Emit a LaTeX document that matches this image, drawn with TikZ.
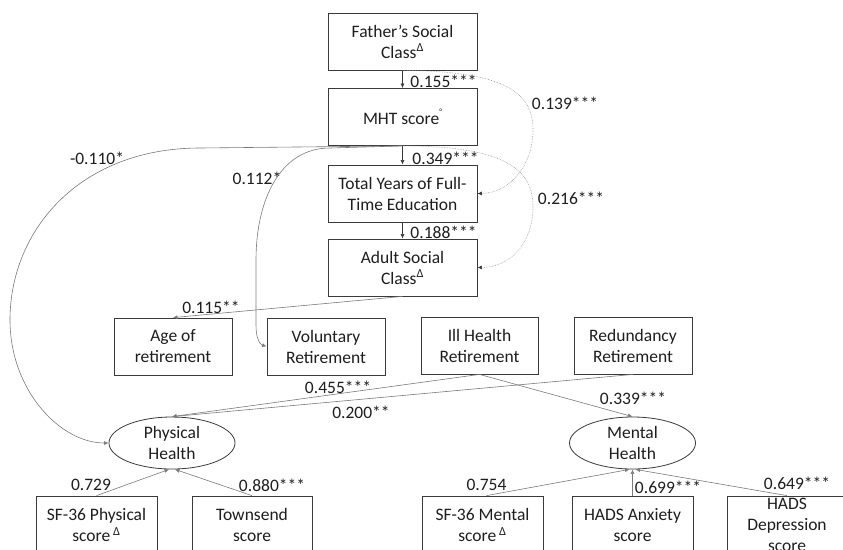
\documentclass[tikz,border=0pt]{standalone}
\usepackage{fontspec}
\setmainfont{Carlito}
\usetikzlibrary{arrows.meta,shapes.geometric}
\definecolor{boxc}{HTML}{3A3A3A}
\definecolor{linec}{HTML}{7A7A7A}
\definecolor{dotc}{HTML}{9A9A9A}
\definecolor{txtc}{HTML}{1E1E1E}
\tikzset{
  box/.style={draw=boxc, line width=0.8pt, align=center, inner sep=0pt,
    minimum height=57pt, text=txtc, font=\fontsize{17.5}{21}\selectfont},
  lat/.style={draw=boxc, line width=0.8pt, ellipse, align=center, inner sep=0pt,
    minimum width=126pt, minimum height=52pt, text=txtc, font=\fontsize{17.5}{21}\selectfont},
  lbl/.style={inner sep=0pt, text=txtc, font=\fontsize{17.5}{21}\selectfont},
  conn/.style={draw=linec, line width=0.6pt, -{Latex[length=4.5pt,width=4pt]}},
  blk/.style={draw=boxc, line width=0.6pt, -{Latex[length=4.5pt,width=4pt]}},
  dconn/.style={draw=dotc, line width=0.6pt, densely dotted, -{Latex[length=4.5pt,width=4pt,color=boxc]}}
}
\begin{document}
\begin{tikzpicture}[x=1pt,y=-1pt]
\useasboundingbox (0,0) rectangle (843,549);
\clip (0,0) rectangle (843,549);
\fill[white] (0,0) rectangle (843,549);

% top column
\node[box, minimum width=149pt] (fsc) at (402.5,41.5) {Father's Social\\Class\textsuperscript{Δ}};
\node[box, minimum width=149pt] (mht) at (402.5,117) {MHT score\raisebox{1.2ex}{\fontsize{8}{8}\selectfont °}};
\node[box, minimum width=149pt] (tye) at (402.5,193.5) {Total Years of Full-\\Time Education};
\node[box, minimum width=149pt] (asc) at (402.5,267.5) {Adult Social\\Class\textsuperscript{Δ}};

% retirement
\node[box, minimum width=118pt] (age) at (173,346.5) {Age of\\retirement};
\node[box, minimum width=118pt] (vol) at (326,346.5) {Voluntary\\Retirement};
\node[box, minimum width=117pt] (ill) at (479.5,345.5) {Ill Health\\Retirement};
\node[box, minimum width=118pt] (red) at (633,345.5) {Redundancy\\Retirement};

% latent
\node[lat] (phys) at (172,443) {Physical\\Health};
\node[lat] (ment) at (632.5,443) {Mental\\Health};

% indicators
\node[box, minimum width=121pt, minimum height=58pt] (sfp) at (96.5,525) {SF-36 Physical\\score\,\textsuperscript{Δ}};
\node[box, minimum width=120pt, minimum height=58pt] (town) at (252,525) {Townsend\\score};
\node[box, minimum width=121pt, minimum height=58pt] (sfm) at (482.5,525) {SF-36 Mental\\score\,\textsuperscript{Δ}};
\node[box, minimum width=121pt, minimum height=58pt] (hadsa) at (632.5,525) {HADS Anxiety\\score};
\node[box, minimum width=120pt, minimum height=58pt] (hadsd) at (787,525) {HADS\\Depression\\score};

% vertical chain
\draw[blk] (fsc.south) -- (mht.north);
\draw[blk] (mht.south) -- (tye.north);
\draw[blk] (tye.south) -- (asc.north);

% dotted curves
\draw[dconn] (fsc.south) .. controls (510,71) and (533,95) .. (533,130)
  .. controls (533,165) and (510,193) .. (tye.east);
\draw[dconn] (mht.south) .. controls (510,146) and (533,172) .. (533,207)
  .. controls (533,243) and (510,267.5) .. (asc.east);

% MHT to physical health and voluntary
\draw[conn] (mht.south) -- (200,148) .. controls (80,148) and (10,230) .. (10,320)
  .. controls (10,390) and (60,443) .. (phys.west);
\draw[conn] (mht.south) -- (330,148) .. controls (280,148) and (256,200) .. (256,260)
  -- (256,325) .. controls (256,337) and (259,344) .. (vol.west);

% adult class to age
\draw[conn] (asc.south) -- (age.north);

% retirement to health
\draw[conn] (ill.south) -- (phys.north);
\draw[conn] (red.south) -- (phys.north);
\draw[conn] (ill.south) -- (ment.north);

% indicators
\draw[conn] (sfp.north) -- ([xshift=-3pt]phys.south);
\draw[conn] (town.north) -- ([xshift=3pt]phys.south);
\draw[conn] ([xshift=4pt]sfm.north) -- ([xshift=-3pt]ment.south);
\draw[conn] (hadsa.north) -- (ment.south);
\draw[conn] (hadsd.north) -- ([xshift=3pt]ment.south);

% labels
\node[lbl] (l1) at (443.5,81) {0.155***};
\node[lbl] (l2) at (565,103) {0.139***};
\node[lbl] (l3) at (445.5,158) {0.349***};
\node[lbl] (l4) at (571,198) {0.216***};
\node[lbl] (l5) at (443.5,232) {0.188***};
\node[lbl] (l6) at (97,158) {-0.110*};
\node[lbl] (l7) at (257,178) {0.112*};
\node[lbl] (l8) at (211,307) {0.115**};
\node[lbl] (l9) at (338,387) {0.455***};
\node[lbl] (l10) at (361,412) {0.200**};
\node[lbl] (l11) at (633,398) {0.339***};
\node[lbl] (l12) at (91,485) {0.729};
\node[lbl] (l13) at (272,485) {0.880***};
\node[lbl] (l14) at (486.5,485) {0.754};
\node[lbl] (l15) at (668,487) {0.699***};
\node[lbl] (l16) at (797,483) {0.649***};
\end{tikzpicture}
\end{document}
